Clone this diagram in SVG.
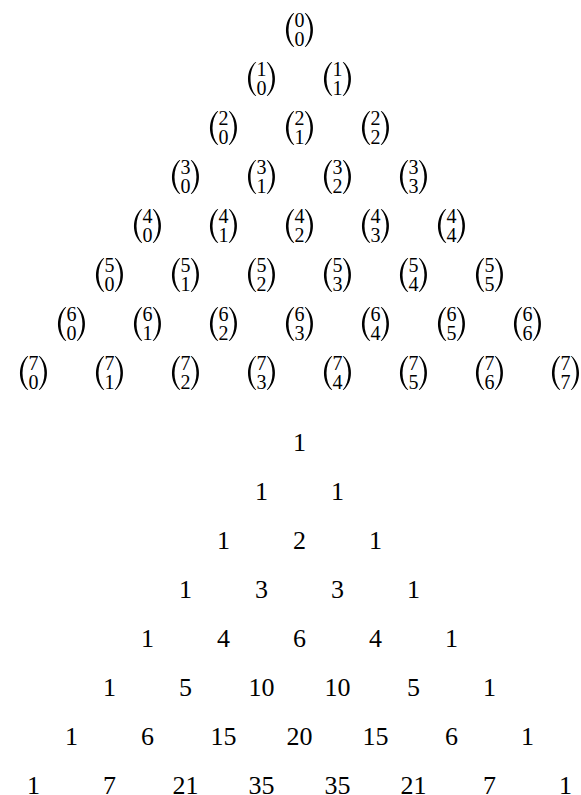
<svg xmlns="http://www.w3.org/2000/svg" xmlns:xlink="http://www.w3.org/1999/xlink" width="581" height="795" viewBox="0 0 581 795">
<style>
text{font-family:"Liberation Serif","DejaVu Serif",serif;fill:#000;text-anchor:middle}
.s{font-size:20px}
.n{font-size:26px}
</style>
<defs>
<path id="lp" d="M-6,-17 C-16,-9 -16,9 -6,17 L-5.2,17 C-12.9,9 -12.9,-9 -5.2,-17 Z" fill="#000"/>
<g id="par"><use xlink:href="#lp" href="#lp"/><use xlink:href="#lp" href="#lp" transform="scale(-1,1)"/></g>
</defs>
<rect width="581" height="795" fill="#fff"/>
<g id="binomials">
<g id="b0_0" transform="translate(299.5,30)"><use href="#par" xlink:href="#par"/><text class="s" y="-3.5">0</text><text class="s" y="15.5">0</text></g>
<g id="b1_0" transform="translate(261.5,79)"><use href="#par" xlink:href="#par"/><text class="s" y="-3.5">1</text><text class="s" y="15.5">0</text></g>
<g id="b1_1" transform="translate(337.5,79)"><use href="#par" xlink:href="#par"/><text class="s" y="-3.5">1</text><text class="s" y="15.5">1</text></g>
<g id="b2_0" transform="translate(223.5,128)"><use href="#par" xlink:href="#par"/><text class="s" y="-3.5">2</text><text class="s" y="15.5">0</text></g>
<g id="b2_1" transform="translate(299.5,128)"><use href="#par" xlink:href="#par"/><text class="s" y="-3.5">2</text><text class="s" y="15.5">1</text></g>
<g id="b2_2" transform="translate(375.5,128)"><use href="#par" xlink:href="#par"/><text class="s" y="-3.5">2</text><text class="s" y="15.5">2</text></g>
<g id="b3_0" transform="translate(185.5,177)"><use href="#par" xlink:href="#par"/><text class="s" y="-3.5">3</text><text class="s" y="15.5">0</text></g>
<g id="b3_1" transform="translate(261.5,177)"><use href="#par" xlink:href="#par"/><text class="s" y="-3.5">3</text><text class="s" y="15.5">1</text></g>
<g id="b3_2" transform="translate(337.5,177)"><use href="#par" xlink:href="#par"/><text class="s" y="-3.5">3</text><text class="s" y="15.5">2</text></g>
<g id="b3_3" transform="translate(413.5,177)"><use href="#par" xlink:href="#par"/><text class="s" y="-3.5">3</text><text class="s" y="15.5">3</text></g>
<g id="b4_0" transform="translate(147.5,226)"><use href="#par" xlink:href="#par"/><text class="s" y="-3.5">4</text><text class="s" y="15.5">0</text></g>
<g id="b4_1" transform="translate(223.5,226)"><use href="#par" xlink:href="#par"/><text class="s" y="-3.5">4</text><text class="s" y="15.5">1</text></g>
<g id="b4_2" transform="translate(299.5,226)"><use href="#par" xlink:href="#par"/><text class="s" y="-3.5">4</text><text class="s" y="15.5">2</text></g>
<g id="b4_3" transform="translate(375.5,226)"><use href="#par" xlink:href="#par"/><text class="s" y="-3.5">4</text><text class="s" y="15.5">3</text></g>
<g id="b4_4" transform="translate(451.5,226)"><use href="#par" xlink:href="#par"/><text class="s" y="-3.5">4</text><text class="s" y="15.5">4</text></g>
<g id="b5_0" transform="translate(109.5,275)"><use href="#par" xlink:href="#par"/><text class="s" y="-3.5">5</text><text class="s" y="15.5">0</text></g>
<g id="b5_1" transform="translate(185.5,275)"><use href="#par" xlink:href="#par"/><text class="s" y="-3.5">5</text><text class="s" y="15.5">1</text></g>
<g id="b5_2" transform="translate(261.5,275)"><use href="#par" xlink:href="#par"/><text class="s" y="-3.5">5</text><text class="s" y="15.5">2</text></g>
<g id="b5_3" transform="translate(337.5,275)"><use href="#par" xlink:href="#par"/><text class="s" y="-3.5">5</text><text class="s" y="15.5">3</text></g>
<g id="b5_4" transform="translate(413.5,275)"><use href="#par" xlink:href="#par"/><text class="s" y="-3.5">5</text><text class="s" y="15.5">4</text></g>
<g id="b5_5" transform="translate(489.5,275)"><use href="#par" xlink:href="#par"/><text class="s" y="-3.5">5</text><text class="s" y="15.5">5</text></g>
<g id="b6_0" transform="translate(71.5,324)"><use href="#par" xlink:href="#par"/><text class="s" y="-3.5">6</text><text class="s" y="15.5">0</text></g>
<g id="b6_1" transform="translate(147.5,324)"><use href="#par" xlink:href="#par"/><text class="s" y="-3.5">6</text><text class="s" y="15.5">1</text></g>
<g id="b6_2" transform="translate(223.5,324)"><use href="#par" xlink:href="#par"/><text class="s" y="-3.5">6</text><text class="s" y="15.5">2</text></g>
<g id="b6_3" transform="translate(299.5,324)"><use href="#par" xlink:href="#par"/><text class="s" y="-3.5">6</text><text class="s" y="15.5">3</text></g>
<g id="b6_4" transform="translate(375.5,324)"><use href="#par" xlink:href="#par"/><text class="s" y="-3.5">6</text><text class="s" y="15.5">4</text></g>
<g id="b6_5" transform="translate(451.5,324)"><use href="#par" xlink:href="#par"/><text class="s" y="-3.5">6</text><text class="s" y="15.5">5</text></g>
<g id="b6_6" transform="translate(527.5,324)"><use href="#par" xlink:href="#par"/><text class="s" y="-3.5">6</text><text class="s" y="15.5">6</text></g>
<g id="b7_0" transform="translate(33.5,373)"><use href="#par" xlink:href="#par"/><text class="s" y="-3.5">7</text><text class="s" y="15.5">0</text></g>
<g id="b7_1" transform="translate(109.5,373)"><use href="#par" xlink:href="#par"/><text class="s" y="-3.5">7</text><text class="s" y="15.5">1</text></g>
<g id="b7_2" transform="translate(185.5,373)"><use href="#par" xlink:href="#par"/><text class="s" y="-3.5">7</text><text class="s" y="15.5">2</text></g>
<g id="b7_3" transform="translate(261.5,373)"><use href="#par" xlink:href="#par"/><text class="s" y="-3.5">7</text><text class="s" y="15.5">3</text></g>
<g id="b7_4" transform="translate(337.5,373)"><use href="#par" xlink:href="#par"/><text class="s" y="-3.5">7</text><text class="s" y="15.5">4</text></g>
<g id="b7_5" transform="translate(413.5,373)"><use href="#par" xlink:href="#par"/><text class="s" y="-3.5">7</text><text class="s" y="15.5">5</text></g>
<g id="b7_6" transform="translate(489.5,373)"><use href="#par" xlink:href="#par"/><text class="s" y="-3.5">7</text><text class="s" y="15.5">6</text></g>
<g id="b7_7" transform="translate(565.5,373)"><use href="#par" xlink:href="#par"/><text class="s" y="-3.5">7</text><text class="s" y="15.5">7</text></g>
</g>
<g id="values">
<g id="r0"><text class="n" x="299.5" y="451">1</text></g>
<g id="r1"><text class="n" x="261.5" y="500">1</text><text class="n" x="337.5" y="500">1</text></g>
<g id="r2"><text class="n" x="223.5" y="549">1</text><text class="n" x="299.5" y="549">2</text><text class="n" x="375.5" y="549">1</text></g>
<g id="r3"><text class="n" x="185.5" y="598">1</text><text class="n" x="261.5" y="598">3</text><text class="n" x="337.5" y="598">3</text><text class="n" x="413.5" y="598">1</text></g>
<g id="r4"><text class="n" x="147.5" y="647">1</text><text class="n" x="223.5" y="647">4</text><text class="n" x="299.5" y="647">6</text><text class="n" x="375.5" y="647">4</text><text class="n" x="451.5" y="647">1</text></g>
<g id="r5"><text class="n" x="109.5" y="696">1</text><text class="n" x="185.5" y="696">5</text><text class="n" x="261.5" y="696">10</text><text class="n" x="337.5" y="696">10</text><text class="n" x="413.5" y="696">5</text><text class="n" x="489.5" y="696">1</text></g>
<g id="r6"><text class="n" x="71.5" y="745">1</text><text class="n" x="147.5" y="745">6</text><text class="n" x="223.5" y="745">15</text><text class="n" x="299.5" y="745">20</text><text class="n" x="375.5" y="745">15</text><text class="n" x="451.5" y="745">6</text><text class="n" x="527.5" y="745">1</text></g>
<g id="r7"><text class="n" x="33.5" y="794">1</text><text class="n" x="109.5" y="794">7</text><text class="n" x="185.5" y="794">21</text><text class="n" x="261.5" y="794">35</text><text class="n" x="337.5" y="794">35</text><text class="n" x="413.5" y="794">21</text><text class="n" x="489.5" y="794">7</text><text class="n" x="565.5" y="794">1</text></g>
</g>
</svg>
